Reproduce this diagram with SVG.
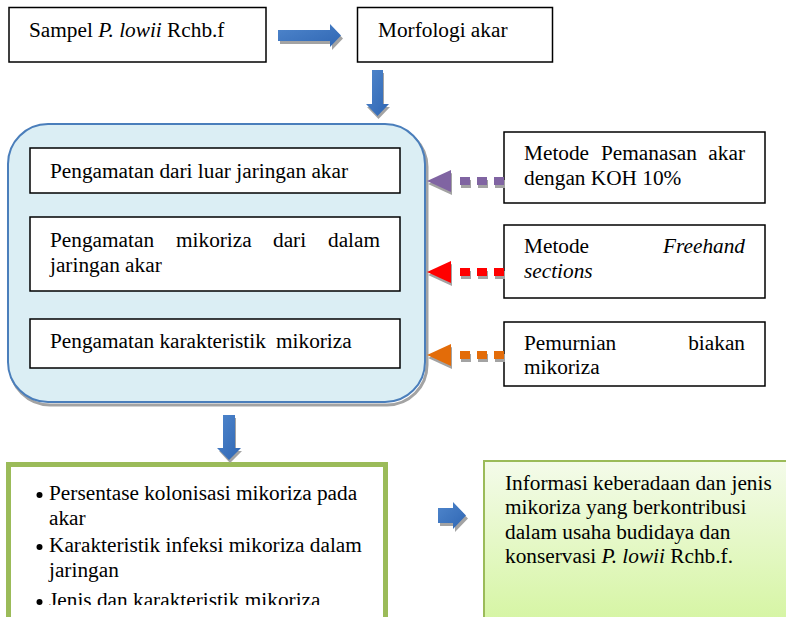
<svg xmlns="http://www.w3.org/2000/svg" width="786" height="617" viewBox="0 0 786 617">
<defs>
<style>
text{font-family:'Liberation Serif','Tinos','Times New Roman','DejaVu Serif',serif;font-size:21.3px;fill:#000}
.it{font-style:italic}
.box{fill:#fff;stroke:#000;stroke-width:1.5}
.sh{fill:#A3A3A3}
.blue{fill:url(#bg)}
</style>
<linearGradient id="bg" x1="0" y1="0" x2="1" y2="1">
<stop offset="0" stop-color="#4F86CC"/>
<stop offset="1" stop-color="#2F66B3"/>
</linearGradient>
<linearGradient id="gg" gradientUnits="userSpaceOnUse" x1="0" y1="461" x2="0" y2="620">
<stop offset="0" stop-color="#F4FBEA"/>
<stop offset="1" stop-color="#D6F5A4"/>
</linearGradient>
<clipPath id="clipText"><rect x="10" y="468" width="374" height="137"/></clipPath>
</defs>
<rect width="786" height="617" fill="#fff"/>

<g id="sampel">
<rect class="box" x="9" y="7.5" width="257" height="54.5"/>
<text x="29" y="37" font-family="Liberation Serif">Sampel <tspan class="it">P. lowii</tspan> Rchb.f</text>
</g>

<g id="morfologi">
<rect class="box" x="357.5" y="7.5" width="195" height="54.5"/>
<text x="378" y="37">Morfologi akar</text>
</g>

<g id="pengamatan-group">
<rect x="10" y="127" width="417" height="278" rx="40" ry="40" fill="none" stroke="#A3A3A3" stroke-width="3"/>
<rect x="8" y="124" width="417" height="278" rx="40" ry="40" fill="#DBEEF4" stroke="#4A7EBB" stroke-width="2"/>
</g>

<g id="luar">
<rect class="box" x="30" y="148" width="370" height="45"/>
<text x="50" y="178">Pengamatan dari luar jaringan akar</text>
</g>

<g id="dalam">
<rect class="box" x="30" y="217" width="370" height="74"/>
<text y="247"><tspan x="50">Pengamatan</tspan><tspan x="176">mikoriza</tspan><tspan x="273">dari</tspan><tspan x="328">dalam</tspan></text>
<text x="50" y="272">jaringan akar</text>
</g>

<g id="karakteristik">
<rect class="box" x="30" y="319" width="370" height="49"/>
<text y="348"><tspan x="50">Pengamatan karakteristik</tspan><tspan x="276">mikoriza</tspan></text>
</g>

<g id="koh">
<rect class="box" x="504" y="132" width="261" height="71"/>
<text y="160"><tspan x="524">Metode</tspan><tspan x="601">Pemanasan</tspan><tspan x="745" text-anchor="end">akar</tspan></text>
<text x="524" y="185">dengan KOH 10%</text>
</g>

<g id="freehand">
<rect class="box" x="504" y="225" width="261" height="73"/>
<text x="524" y="253">Metode</text>
<text class="it" x="745" y="253" text-anchor="end">Freehand</text>
<text class="it" x="524" y="278">sections</text>
</g>

<g id="pemurnian">
<rect class="box" x="504" y="322" width="261" height="64"/>
<text x="524" y="350">Pemurnian</text>
<text x="745" y="350" text-anchor="end">biakan</text>
<text x="524" y="374">mikoriza</text>
</g>

<g id="hasil">
<rect x="8.5" y="464.5" width="377" height="170" fill="#fff" stroke="#9BBB59" stroke-width="5"/>
<g clip-path="url(#clipText)">
<circle cx="39.5" cy="495" r="3"/>
<text x="49" y="500">Persentase kolonisasi mikoriza pada</text>
<text x="49" y="525">akar</text>
<circle cx="39.5" cy="547" r="3"/>
<text x="49" y="552">Karakteristik infeksi mikoriza dalam</text>
<text x="49" y="577">jaringan</text>
<circle cx="39.5" cy="602" r="3"/>
<text x="49" y="607">Jenis dan karakteristik mikoriza</text>
</g>
</g>

<g id="informasi">
<rect x="484" y="461" width="320" height="180" fill="url(#gg)" stroke="#9BBB59" stroke-width="2"/>
<text x="505" y="490">Informasi keberadaan dan jenis</text>
<text x="505" y="514">mikoriza yang berkontribusi</text>
<text x="505" y="538.5">dalam usaha budidaya dan</text>
<text x="505" y="563">konservasi <tspan class="it">P. lowii</tspan> Rchb.f.</text>
</g>

<g id="connectors">
<path class="sh" d="M280,33 H332 V27 L343,38.5 L332,50 V44 H280 Z"/>
<path class="blue" d="M278,30 H330 V24 L341,35.5 L330,47 V41 H278 Z"/>
<path class="sh" d="M373,73 H384 V107 H390 L378.5,119 L367,107 H373 Z"/>
<path class="blue" d="M372,70 H383 V104 H389 L377.5,116 L366,104 H372 Z"/>
<path class="sh" d="M224,418 H236 V451 H242 L230,463 L219,451 H224 Z"/>
<path class="blue" d="M223,415 H235 V448 H241 L229,460 L217,448 H223 Z"/>
<path class="sh" d="M440,511 H455 V505 L468,518.5 L455,532 V526 H440 Z"/>
<path class="blue" d="M438,508 H453 V502 L466,515.5 L453,529 V523 H438 Z"/>
<g transform="translate(1,3)">
<line x1="504" y1="181" x2="453" y2="181" stroke="#A3A3A3" stroke-width="8" stroke-dasharray="10 7"/>
<path d="M451,170 L427,181 L451,192 Z" fill="#A3A3A3"/>
</g>
<line x1="504" y1="181" x2="453" y2="181" stroke="#8064A2" stroke-width="8" stroke-dasharray="10 7"/>
<path d="M451,170 L427,181 L451,192 Z" fill="#8064A2"/>
<g transform="translate(1,3)">
<line x1="504" y1="272" x2="453" y2="272" stroke="#A3A3A3" stroke-width="8" stroke-dasharray="10 7"/>
<path d="M451,261 L427,272 L451,283 Z" fill="#A3A3A3"/>
</g>
<line x1="504" y1="272" x2="453" y2="272" stroke="#FF0000" stroke-width="8" stroke-dasharray="10 7"/>
<path d="M451,261 L427,272 L451,283 Z" fill="#FF0000"/>
<g transform="translate(1,3)">
<line x1="504" y1="355" x2="453" y2="355" stroke="#A3A3A3" stroke-width="8" stroke-dasharray="10 7"/>
<path d="M451,344 L427,355 L451,366 Z" fill="#A3A3A3"/>
</g>
<line x1="504" y1="355" x2="453" y2="355" stroke="#E36C09" stroke-width="8" stroke-dasharray="10 7"/>
<path d="M451,344 L427,355 L451,366 Z" fill="#E36C09"/>
</g>
</svg>
